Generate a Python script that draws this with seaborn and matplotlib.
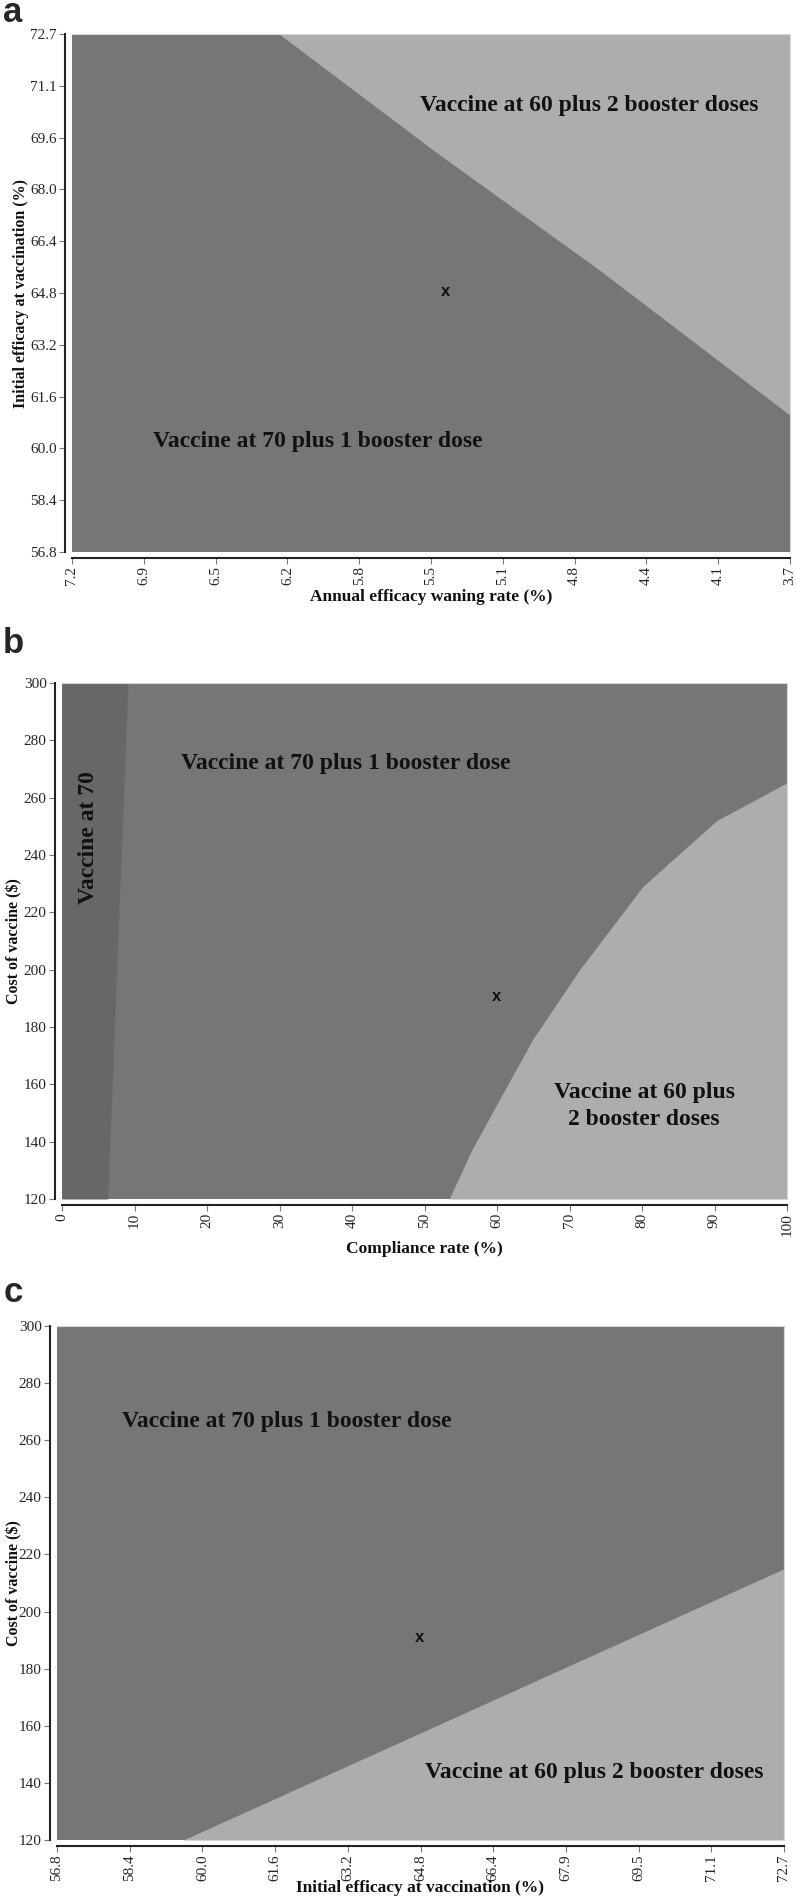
import matplotlib
matplotlib.use("Agg")
import matplotlib.pyplot as plt
import seaborn as sns

# Colours of the decision regions
DARK = "#767676"
DARKER = "#676767"
LIGHT = "#adadad"

# ---- panel a : waning rate vs initial efficacy
wane_ticks = [7.2, 6.85, 6.5, 6.15, 5.8, 5.45, 5.1, 4.75, 4.4, 4.05, 3.7]
wane_labels = ["7.2", "6.9", "6.5", "6.2", "5.8", "5.5", "5.1", "4.8", "4.4", "4.1", "3.7"]
eff_ticks = [56.8, 58.39, 59.98, 61.57, 63.16, 64.75, 66.34, 67.93, 69.52, 71.11, 72.7]
eff_labels_a = ["56.8", "58.4", "60.0", "61.6", "63.2", "64.8", "66.4", "68.0", "69.6", "71.1", "72.7"]
a_edge_wane = [6.19, 5.44, 4.63, 3.70]
a_edge_eff = [72.7, 69.14, 65.46, 61.0]
a_base = (5.38, 64.8)

# ---- panel b : compliance vs vaccine cost
comp_ticks = [0, 10, 20, 30, 40, 50, 60, 70, 80, 90, 100]
cost_ticks = [120, 140, 160, 180, 200, 220, 240, 260, 280, 300]
b_strip_cost = [120, 300]
b_strip_comp = [6.3, 9.1]
b_edge_comp = [53.4, 56.5, 60.4, 65.0, 71.4, 80.1, 90.3, 100]
b_edge_cost = [120, 137, 155, 176, 200, 229, 252, 265.2]
b_base = (60, 190.8)

# ---- panel c : initial efficacy vs vaccine cost
eff_labels_c = ["56.8", "58.4", "60.0", "61.6", "63.2", "64.8", "66.4", "67.9", "69.5", "71.1", "72.7"]
c_edge_eff = [59.56, 72.7]
c_edge_cost = [120, 215]
c_base = (64.72, 191)

sns.set_theme(style="white")
plt.rcParams["font.family"] = ["Liberation Serif", "DejaVu Serif"]

fig = plt.figure(figsize=(7.97, 19.02), dpi=100)
W, H = 797, 1902


def make_axes(x0, x1, y0, y1):
    return fig.add_axes([x0 / W, 1 - y1 / H, (x1 - x0) / W, (y1 - y0) / H])


def style(ax, xlim, ylim, xt, xl, yt, yl, xlabel, ylabel, xlab_y, ylab_x):
    ax.set_xlim(*xlim)
    ax.set_ylim(*ylim)
    ax.tick_params(axis="both", which="major", length=4, width=0.8, color="#777777",
                   left=True, bottom=True, pad=2)
    ax.tick_params(axis="x", labelrotation=90)
    ax.set_xticks(xt)
    ax.set_xticklabels(xl, rotation=90, family=["Liberation Sans"], fontsize=8, color="#555555")
    ax.set_yticks(yt)
    ax.set_yticklabels(yl, fontsize=8.5, color="#444444")
    for side in ["top", "right"]:
        ax.spines[side].set_color("#d6d6d6")
        ax.spines[side].set_linewidth(0.8)
    ax.spines["left"].set_position(("outward", 5))
    ax.spines["bottom"].set_position(("outward", 4))
    for side in ["left", "bottom"]:
        ax.spines[side].set_color("#222222")
        ax.spines[side].set_linewidth(1.5)
    ax.set_xlabel(xlabel, fontsize=12.5, fontweight="bold", color="#111111")
    ax.set_ylabel(ylabel, fontsize=11.5, fontweight="bold", color="#111111")
    ax.xaxis.set_label_coords(0.5, xlab_y)
    ax.yaxis.set_label_coords(ylab_x, 0.5)


region_font = dict(fontsize=17, fontweight="bold", color="#111111", ha="center", va="center")
mark_font = dict(fontsize=12, fontweight="bold", color="#111111", ha="center", va="center",
                 family=["Liberation Sans"])

# panel a
ax = make_axes(72, 790, 34, 552)
ax.fill_between([wane_ticks[0], wane_ticks[-1]], eff_ticks[0], eff_ticks[-1], color=DARK, lw=0)
ax.fill_between(a_edge_wane, a_edge_eff, eff_ticks[-1], color=LIGHT, lw=0)
style(ax, (7.2, 3.7), (56.8, 72.7), wane_ticks, wane_labels, eff_ticks, eff_labels_a,
      "Annual efficacy waning rate (%)", "Initial efficacy at vaccination (%)", -0.071, -0.06)
ax.text(4.68, 70.52, "Vaccine at 60 plus 2 booster doses", **region_font)
ax.text(6.0, 60.18, "Vaccine at 70 plus 1 booster dose", **region_font)
ax.text(a_base[0], a_base[1], "x", **mark_font)

# panel b
ax = make_axes(62, 787, 683, 1199)
ax.fill_between([0, 100], 120, 300, color=DARK, lw=0)
ax.fill_betweenx(b_strip_cost, 0, b_strip_comp, color=DARKER, lw=0)
ax.fill_between(b_edge_comp, 120, b_edge_cost, color=LIGHT, lw=0)
style(ax, (0, 100), (120, 300), comp_ticks, [str(v) for v in comp_ticks], cost_ticks,
      [str(v) for v in cost_ticks], "Compliance rate (%)", "Cost of vaccine ($)", -0.081, -0.054)
ax.text(39.2, 271.8, "Vaccine at 70 plus 1 booster dose", **region_font)
ax.text(80.3, 152.5, "Vaccine at 60 plus\n2 booster doses", linespacing=1.35, **region_font)
ax.text(3.7, 246, "Vaccine at 70", rotation=90, **region_font)
ax.text(b_base[0], b_base[1], "x", **mark_font)

# panel c
ax = make_axes(57, 784, 1326, 1840)
ax.fill_between([eff_ticks[0], eff_ticks[-1]], 120, 300, color=DARK, lw=0)
ax.fill_between(c_edge_eff, 120, c_edge_cost, color=LIGHT, lw=0)
style(ax, (56.8, 72.7), (120, 300), eff_ticks, eff_labels_c, cost_ticks,
      [str(v) for v in cost_ticks], "Initial efficacy at vaccination (%)", "Cost of vaccine ($)",
      -0.078, -0.048)
ax.text(61.83, 266.4, "Vaccine at 70 plus 1 booster dose", **region_font)
ax.text(68.54, 143.7, "Vaccine at 60 plus 2 booster doses", **region_font)
ax.text(c_base[0], c_base[1], "x", **mark_font)

# panel letters
letter_font = dict(fontsize=25, fontweight="bold", family=["Liberation Sans"], va="baseline", ha="left")
fig.text(0.004, 1 - 22 / H, "a", **letter_font)
fig.text(0.004, 1 - 653 / H, "b", **letter_font)
fig.text(0.004, 1 - 1302 / H, "c", **letter_font)

fig.savefig("out.png", dpi=100)
